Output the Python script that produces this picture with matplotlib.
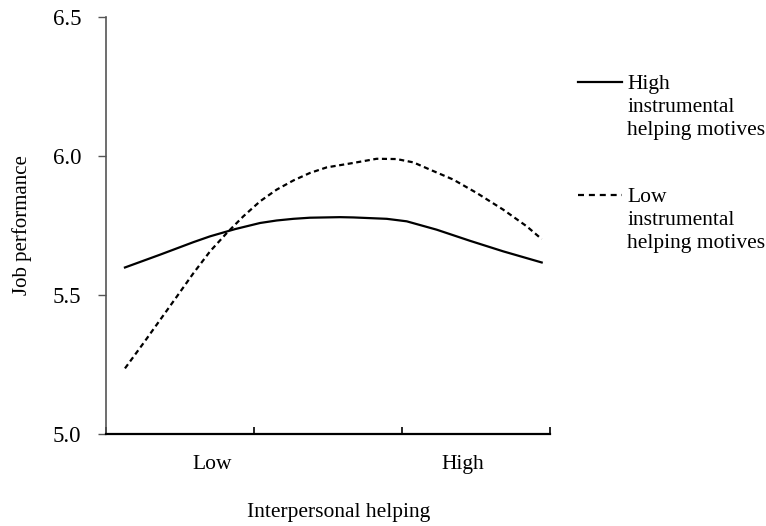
import matplotlib
matplotlib.use("Agg")
import matplotlib.pyplot as plt
from matplotlib.lines import Line2D

# Data (x in category units: axis ticks at 0..3)
x_high = [0.128, 0.365, 0.590, 0.703, 0.872, 1.041, 1.153, 1.266, 1.378, 1.581,
          1.671, 1.897, 2.032, 2.234, 2.459, 2.684, 2.944]
y_high = [5.599, 5.645, 5.690, 5.711, 5.737, 5.759, 5.768, 5.774, 5.778, 5.780,
          5.779, 5.774, 5.765, 5.735, 5.695, 5.657, 5.617]

x_low = [0.128, 0.252, 0.365, 0.478, 0.590, 0.703, 0.816, 0.928, 1.041, 1.153,
         1.266, 1.378, 1.491, 1.671, 1.829, 1.964, 2.077, 2.189, 2.347, 2.505,
         2.684, 2.843, 2.944]
y_low = [5.236, 5.326, 5.410, 5.494, 5.578, 5.657, 5.723, 5.783, 5.837, 5.879,
         5.912, 5.939, 5.959, 5.975, 5.990, 5.989, 5.977, 5.951, 5.915, 5.867,
         5.807, 5.747, 5.701]

labels = ["High\ninstrumental\nhelping motives", "Low\ninstrumental\nhelping motives"]
y_ticks = [5.0, 5.5, 6.0, 6.5]
x_cat_labels = ["Low", "High"]
x_cat_pos = [0.72, 2.41]

plt.rcParams['font.family'] = ['Liberation Serif', 'DejaVu Serif']
FS = 15.5

fig = plt.figure(figsize=(7.66, 5.26), dpi=100)
ax = fig.add_axes([0.1384, 0.1749, 0.718 - 0.1384, 0.9677 - 0.1749])

dash = (0, (2.3, 1.6))
ax.plot(x_high, y_high, color='black', lw=1.6)
ax.plot(x_low, y_low, color='black', lw=1.6, linestyle=dash)

ax.set_xlim(0, 3)
ax.set_ylim(5.0, 6.5)
ax.set_yticks(y_ticks)
ax.set_yticklabels([f"{v:.1f}" for v in y_ticks], fontsize=16.5)
ax.set_xticks([0, 1, 2, 3])
ax.set_xticklabels([])
ax.tick_params(axis='x', which='major', direction='in', length=5, width=1.2, color='black')
ax.set_xticks(x_cat_pos, minor=True)
ax.set_xticklabels(x_cat_labels, minor=True, fontsize=FS)
ax.tick_params(axis='x', which='minor', length=0, pad=15)
ax.tick_params(axis='y', direction='out', length=6, width=1.0, color='#555555', pad=12)

for s in ['top', 'right']:
    ax.spines[s].set_visible(False)
ax.spines['left'].set_color('#555555')
ax.spines['left'].set_linewidth(1.2)
ax.spines['bottom'].set_color('black')
ax.spines['bottom'].set_linewidth(1.6)

ax.set_xlabel("Interpersonal helping", fontsize=FS, labelpad=21, x=0.525)
ax.set_ylabel("Job performance", fontsize=15, labelpad=15)

# Legend (drawn manually so the key aligns with the first text line)
W, H = 766, 526
def fx(px):
    return px / W
def fy(py):
    return 1 - py / H

entries = [(labels[0], '-', 82, 75), (labels[1], (0, (2.7, 2.2)), 195, 188)]
for text, ls, yc, ytop in entries:
    fig.add_artist(Line2D([fx(578), fx(622)], [fy(yc), fy(yc)], color='black',
                          lw=1.6, linestyle=ls, transform=fig.transFigure))
    fig.text(fx(627), fy(ytop), text, fontsize=FS, ha='left', va='top',
             linespacing=1.3)

fig.savefig("out.png", dpi=100)
